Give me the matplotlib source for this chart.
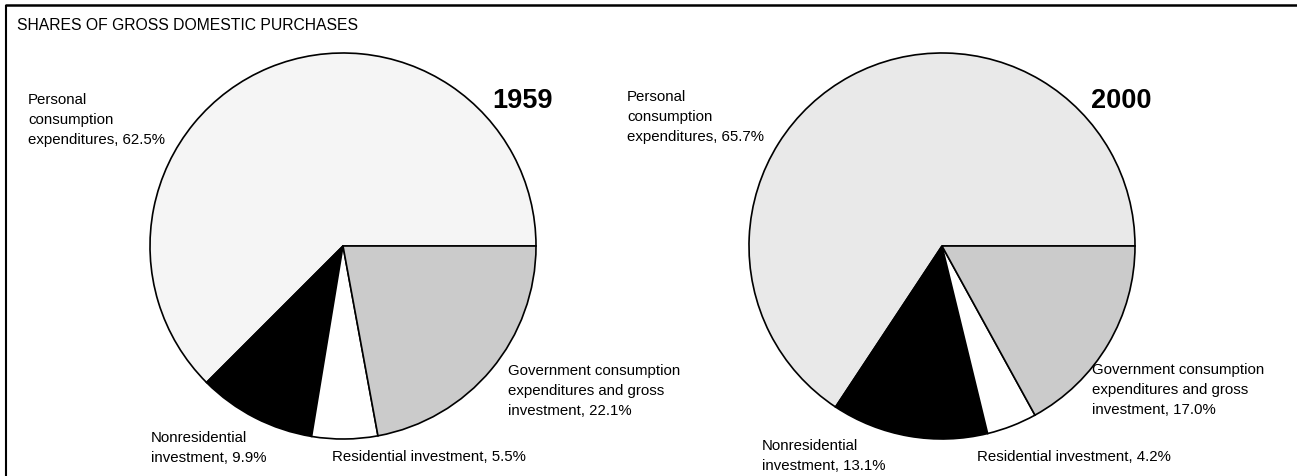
import matplotlib
matplotlib.use("Agg")
import matplotlib.pyplot as plt

plt.rcParams['font.family'] = ['Liberation Sans', 'DejaVu Sans']

categories = ["Personal consumption expenditures", "Nonresidential investment",
              "Residential investment", "Government consumption expenditures and gross investment"]
shares_1959 = [62.5, 9.9, 5.5, 22.1]
shares_2000 = [65.7, 13.1, 4.2, 17.0]
years = ["1959", "2000"]
title = "SHARES OF GROSS DOMESTIC PURCHASES"

W, H = 1297, 477
fig = plt.figure(figsize=(W / 100, H / 100), dpi=100)
ax = fig.add_axes([0, 0, 1, 1])

colors_1959 = ['#f5f5f5', 'black', 'white', '#cbcbcb']
colors_2000 = ['#e9e9e9', 'black', 'white', '#cbcbcb']
wp = dict(edgecolor='black', linewidth=1.2)

ax.pie(shares_1959, colors=colors_1959, startangle=0, counterclock=True,
       center=(343, H - 247), radius=193, wedgeprops=wp)
ax.pie(shares_2000, colors=colors_2000, startangle=0, counterclock=True,
       center=(942, H - 247), radius=193, wedgeprops=wp)

ax.set_xlim(0, W)
ax.set_ylim(0, H)
ax.set_aspect('auto')
ax.axis('off')

# frame lines (top and left)
ax.plot([5, W], [H - 6, H - 6], color='black', lw=1.8, solid_capstyle='butt')
ax.plot([6, 6], [H - 6, 0], color='black', lw=1.5, solid_capstyle='butt')

fs = 10.8
ls = 1.55

def txt(x, y, s, **kw):
    kw.setdefault('fontsize', fs)
    kw.setdefault('va', 'top')
    kw.setdefault('ha', 'left')
    kw.setdefault('linespacing', ls)
    ax.text(x, H - y, s, **kw)

txt(17, 18, title, fontsize=11.3)

def fmt(v):
    return f"{v:.1f}%"

# 1959
txt(28, 93, f"Personal\nconsumption\nexpenditures, {fmt(shares_1959[0])}")
txt(492, 88, years[0], fontsize=19.5, fontweight='bold')
txt(508, 364, f"Government consumption\nexpenditures and gross\ninvestment, {fmt(shares_1959[3])}")
txt(151, 431, f"Nonresidential\ninvestment, {fmt(shares_1959[1])}")
txt(332, 450, f"Residential investment, {fmt(shares_1959[2])}")

# 2000
txt(627, 90, f"Personal\nconsumption\nexpenditures, {fmt(shares_2000[0])}")
txt(1091, 88, years[1], fontsize=19.5, fontweight='bold')
txt(1092, 363, f"Government consumption\nexpenditures and gross\ninvestment, {fmt(shares_2000[3])}")
txt(762, 439, f"Nonresidential\ninvestment, {fmt(shares_2000[1])}")
txt(977, 450, f"Residential investment, {fmt(shares_2000[2])}")

fig.savefig("out.png", dpi=100)
